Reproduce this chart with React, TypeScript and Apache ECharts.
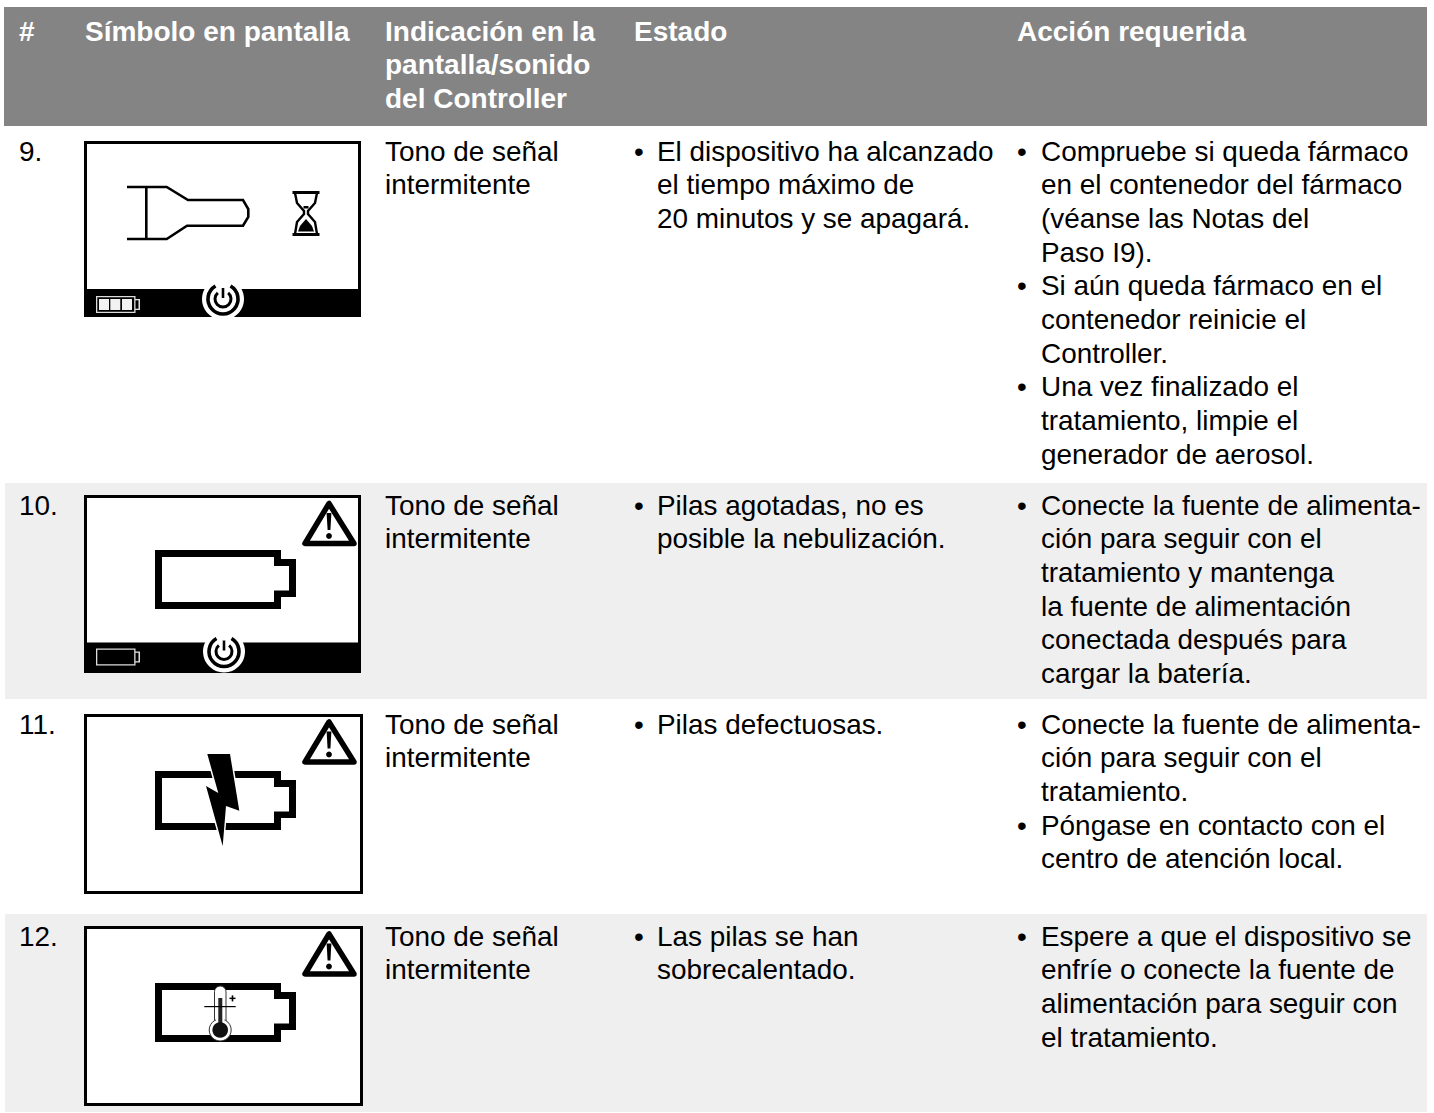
import React, { useEffect, useRef } from "react";
import * as echarts from "echarts";

const headerCells = [
  { x: 19, lines: ["#"] },
  { x: 85, lines: ["Símbolo en pantalla"] },
  { x: 385, lines: ["Indicación en la", "pantalla/sonido", "del Controller"] },
  { x: 634, lines: ["Estado"] },
  { x: 1017, lines: ["Acción requerida"] },
];
const rowNumbers = ["9.", "10.", "11.", "12."];
const rowFirstLine = [151, 505, 724, 936];
const indication = ["Tono de señal", "intermitente"];
const estados = [
  [["El dispositivo ha alcanzado", "el tiempo máximo de", "20 minutos y se apagará."]],
  [["Pilas agotadas, no es", "posible la nebulización."]],
  [["Pilas defectuosas."]],
  [["Las pilas se han", "sobrecalentado."]],
];
const acciones = [
  [
    ["Compruebe si queda fármaco", "en el contenedor del fármaco", "(véanse las Notas del", "Paso I9)."],
    ["Si aún queda fármaco en el", "contenedor reinicie el", "Controller."],
    ["Una vez finalizado el", "tratamiento, limpie el", "generador de aerosol."],
  ],
  [["Conecte la fuente de alimenta-", "ción para seguir con el", "tratamiento y mantenga", "la fuente de alimentación", "conectada después para", "cargar la batería."]],
  [
    ["Conecte la fuente de alimenta-", "ción para seguir con el", "tratamiento."],
    ["Póngase en contacto con el", "centro de atención local."],
  ],
  [["Espere a que el dispositivo se", "enfríe o conecte la fuente de", "alimentación para seguir con", "el tratamiento."]],
];

const FONT = '"Liberation Sans", Arial, sans-serif';
const LINE = 33.7;
const BLACK = "#000";
const INK = "#000";

const rect = (x: number, y: number, width: number, height: number, fill: string) => ({
  type: "rect", shape: { x, y, width, height }, style: { fill },
});
const txt = (text: string, x: number, y: number, bold = false, fill = INK) => ({
  type: "text",
  style: { text, x, y, fill, font: `${bold ? "bold 28" : "27.9"}px ${FONT}`, verticalAlign: "middle", align: "left" },
});
const poly = (points: number[][], stroke: string, lineWidth: number) => ({
  type: "polyline", shape: { points }, style: { stroke, lineWidth, fill: "none", lineJoin: "miter" },
});
const gon = (points: number[][], fill: string) => ({ type: "polygon", shape: { points }, style: { fill } });
const stroked = (points: number[][], stroke: string, lineWidth: number) => ({
  type: "polygon", shape: { points }, style: { fill: "none", stroke, lineWidth, lineJoin: "round" },
});

function frame(x: number, y: number, w: number, h: number, t = 3) {
  return [rect(x, y, w, h, BLACK), rect(x + t, y + t, w - 2 * t, h - 2 * t, "#fff")];
}

function powerBar(x: number, y: number, w: number, h: number, cx: number, cy: number) {
  const gap = (deg: number) => (deg * Math.PI) / 180;
  return [
    rect(x, y, w, h, BLACK),
    { type: "circle", shape: { cx, cy, r: 21 }, style: { fill: "#fff" } },
    { type: "arc", shape: { cx, cy, r: 15, startAngle: gap(-60), endAngle: gap(-120) }, style: { stroke: BLACK, lineWidth: 3.6, fill: "none" } },
    { type: "arc", shape: { cx, cy, r: 8, startAngle: gap(-50), endAngle: gap(-130) }, style: { stroke: BLACK, lineWidth: 3, fill: "none" } },
    rect(cx - 1.3, cy - 11, 2.6, 10, BLACK),
  ];
}

function warning(ox: number, oy: number) {
  return [
    stroked([[ox + 27, oy + 3.5], [ox + 3, oy + 43.5], [ox + 52, oy + 43.5]], BLACK, 5.5),
    gon([[ox + 24.6, oy + 13], [ox + 29.4, oy + 13], [ox + 28.4, oy + 30], [ox + 25.6, oy + 30]], BLACK),
    { type: "circle", shape: { cx: ox + 27, cy: oy + 36, r: 2.9 }, style: { fill: BLACK } },
  ];
}

function bigBattery(ox: number, oy: number) {
  return [
    gon([[ox, oy], [ox + 126, oy], [ox + 126, oy + 9], [ox + 141, oy + 9], [ox + 141, oy + 47], [ox + 126, oy + 47], [ox + 126, oy + 59], [ox, oy + 59]], BLACK),
    gon([[ox + 7, oy + 7], [ox + 119, oy + 7], [ox + 119, oy + 16], [ox + 134, oy + 16], [ox + 134, oy + 40.5], [ox + 119, oy + 40.5], [ox + 119, oy + 52], [ox + 7, oy + 52]], "#fff"),
  ];
}

function smallBattery(ox: number, oy: number, cells: boolean) {
  const h = 17;
  const out = [
    rect(ox + 38, oy + 3, 6, h - 6, "#ddd"),
    rect(ox + 38, oy + 4.3, 4.5, h - 8.6, BLACK),
    rect(ox, oy, 39.5, h, "#ddd"),
    rect(ox + 1.3, oy + 1.3, 36.9, h - 2.6, BLACK),
  ] as any[];
  if (cells) {
    [3, 14.3, 26].forEach((d) => out.push(rect(ox + d, oy + 3, 10, h - 6, "#f2f2f2")));
  }
  return out;
}

function icons() {
  const g: any[] = [];
  // row 9
  g.push(...frame(84, 141, 277, 176));
  g.push(...powerBar(84, 289, 277, 28, 223, 299));
  g.push(rect(190, 317, 70, 8, "#fff"));
  g.push(...smallBattery(96, 296, true));
  g.push(poly([[127, 187], [166.7, 187], [188, 200], [243, 200], [248.3, 209], [248.3, 217], [243, 225.7], [187, 225.7], [166.7, 239], [127, 239]], BLACK, 2.6));
  g.push(rect(145, 187, 2.6, 52, BLACK));
  g.push(rect(292.5, 191, 27, 3, BLACK), rect(292.5, 233, 27, 3, BLACK));
  g.push(poly([[295, 193], [297, 203], [304, 211], [304, 214], [297, 222], [295, 234]], BLACK, 2.4));
  g.push(poly([[317, 193], [315, 203], [308, 211], [308, 214], [315, 222], [317, 234]], BLACK, 2.4));
  g.push(gon([[306, 219], [300, 226], [298, 231.5], [314, 231.5], [312, 226]], BLACK));
  g.push(rect(303.5, 206, 5, 2.5, BLACK));

  // row 10
  g.push(rect(84, 495, 277, 178, BLACK), rect(87, 498, 271, 147, "#fff"));
  g.push(...powerBar(84, 642.5, 277, 30.5, 224, 651.5));
  g.push(rect(190, 673, 70, 8, "#efefef"));
  g.push(...smallBattery(96, 648.5, false));
  g.push(...bigBattery(155, 550));
  g.push(...warning(302, 500));

  // row 11
  g.push(...frame(84, 714, 279, 180));
  g.push(...bigBattery(155, 771));
  g.push(...warning(302, 718.5));
  const bolt = [[207.3, 754], [230, 754], [239.3, 810.7], [226, 806], [222.7, 846], [206, 786], [218.3, 793]];
  g.push({ type: "polygon", shape: { points: bolt }, style: { fill: BLACK, stroke: "#fff", lineWidth: 3, lineJoin: "miter" } });
  g.push(gon(bolt, BLACK));

  // row 12
  g.push(...frame(84, 926, 279, 180));
  g.push(...bigBattery(155, 983));
  g.push(...warning(302, 930.5));
  g.push({ type: "rect", shape: { x: 214.5, y: 986, width: 11.5, height: 40, r: 5.7 }, style: { fill: "#fff", stroke: "#333", lineWidth: 1 } });
  g.push({ type: "circle", shape: { cx: 220.2, cy: 1030, r: 11 }, style: { fill: "#fff", stroke: "#333", lineWidth: 1 } });
  g.push(rect(216, 1014, 8.5, 8, "#fff"));
  g.push(rect(218.3, 998, 4, 30, "#222"));
  g.push({ type: "circle", shape: { cx: 220.2, cy: 1030, r: 7.8 }, style: { fill: "#111" } });
  g.push(rect(204.3, 1006, 31.4, 1.2, BLACK));
  g.push(rect(229.5, 997.6, 6, 1.5, BLACK), rect(231.7, 995.4, 1.6, 6, BLACK));
  return g;
}

function buildGraphic() {
  const g: any[] = [];
  g.push(rect(0, 0, 1434, 1113, "#fff"));
  g.push(rect(4, 7, 1423, 119, "#848484"));
  g.push(rect(5, 483, 1422, 216, "#efefef"));
  g.push(rect(5, 914, 1422, 198, "#efefef"));
  headerCells.forEach((c) => c.lines.forEach((l, i) => g.push(txt(l, c.x, 31 + i * 33.7, true, "#fff"))));
  g.push(...icons());
  rowNumbers.forEach((n, r) => {
    const y = rowFirstLine[r];
    g.push(txt(n, 19, y));
    indication.forEach((l, i) => g.push(txt(l, 385, y + i * LINE)));
    const column = (items: string[][], xBullet: number, xText: number) => {
      let k = 0;
      items.forEach((lines) => {
        g.push(txt("•", xBullet, y + k * LINE));
        lines.forEach((l) => { g.push(txt(l, xText, y + k * LINE)); k += 1; });
      });
    };
    column(estados[r], 634, 657);
    column(acciones[r], 1017, 1041);
  });
  return g;
}

export default function App() {
  const ref = useRef<HTMLDivElement>(null);
  useEffect(() => {
    document.body.style.margin = "0";
    const chart = echarts.init(ref.current!, null, { renderer: "svg" });
    chart.setOption({ animation: false, graphic: { elements: buildGraphic() } });
    return () => chart.dispose();
  }, []);
  return <div ref={ref} style={{ position: "absolute", left: 0, top: 0, width: 1434, height: 1113 }} />;
}
